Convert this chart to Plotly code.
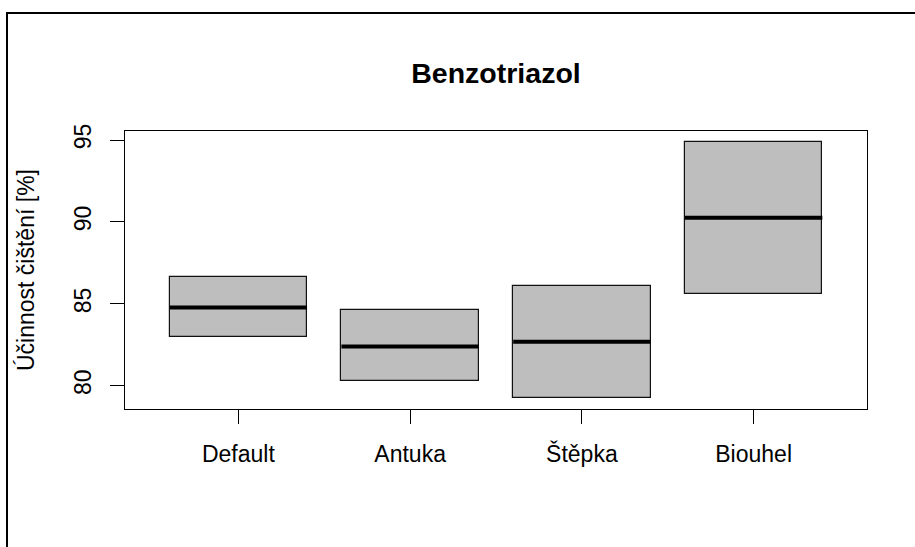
import plotly.graph_objects as go

# Group labels and box statistics (lower hinge, median, upper hinge)
categories = ["Default", "Antuka", "Štěpka", "Biouhel"]
q1 = [82.95, 80.31, 79.23, 85.60]
median = [84.78, 82.40, 82.69, 90.26]
q3 = [86.62, 84.60, 86.09, 94.90]

y_ticks = [80, 85, 90, 95]

positions = list(range(1, len(categories) + 1))
half_width = 0.4

FONT = "Arial, Liberation Sans, sans-serif"

fig = go.Figure()

# Boxes: hinge-to-hinge rectangles
fig.add_trace(go.Bar(
    x=positions,
    y=[hi - lo for lo, hi in zip(q1, q3)],
    base=q1,
    width=2 * half_width,
    marker=dict(color="#BEBEBE", line=dict(color="#111111", width=1.2)),
    hoverinfo="skip",
    showlegend=False,
))

# Median lines drawn across each box
mx, my = [], []
for p, m in zip(positions, median):
    mx += [p - half_width, p + half_width, None]
    my += [m, m, None]
fig.add_trace(go.Scatter(
    x=mx, y=my, mode="lines",
    line=dict(color="black", width=4),
    hoverinfo="skip", showlegend=False,
))

W, H = 915, 547
L, R, T, B = 125, 48, 131, 138
pw, ph = W - L - R, H - T - B

fig.update_layout(
    width=W, height=H,
    margin=dict(l=L, r=R, t=T, b=B, pad=0),
    paper_bgcolor="white", plot_bgcolor="white",
    font=dict(family=FONT, color="black", size=23),
    title=dict(
        text="<b>Benzotriazol</b>",
        x=(496 - L) / pw, xref="paper", xanchor="center",
        y=1 - 73.5 / H, yref="container", yanchor="middle",
        font=dict(family=FONT, size=28.5, color="black"),
    ),
    bargap=0,
)

fig.update_xaxes(
    range=[0.34, 4.66],
    tickvals=positions, ticktext=categories,
    ticks="outside", ticklen=14, tickwidth=1, tickcolor="black",
    showline=True, linecolor="black", linewidth=1, mirror=True,
    showgrid=False, zeroline=False,
    tickfont=dict(size=23), ticklabelstandoff=10,
)
fig.update_yaxes(
    range=[78.58, 95.55],
    tickvals=y_ticks, ticktext=[str(v) for v in y_ticks],
    tickangle=-90,
    ticks="outside", ticklen=14, tickwidth=1, tickcolor="black",
    showline=True, linecolor="black", linewidth=1, mirror=True,
    showgrid=False, zeroline=False,
    tickfont=dict(size=23), ticklabelstandoff=10,
)

# Y axis title
fig.add_annotation(
    text="Účinnost čištění [%]",
    xref="paper", yref="paper",
    x=(26 - L) / pw, y=0.5,
    xanchor="center", yanchor="middle",
    textangle=-90, showarrow=False,
    font=dict(family=FONT, size=23, color="black"),
)

# Outer frame around the device region
fig.add_shape(
    type="rect", xref="paper", yref="paper",
    x0=(7 - L) / pw, x1=(W + 20 - L) / pw,
    y0=1 + (T - 13) / ph, y1=-(B + 20) / ph,
    line=dict(color="black", width=2), fillcolor="rgba(0,0,0,0)",
    layer="above",
)

fig.write_html("out.html")
